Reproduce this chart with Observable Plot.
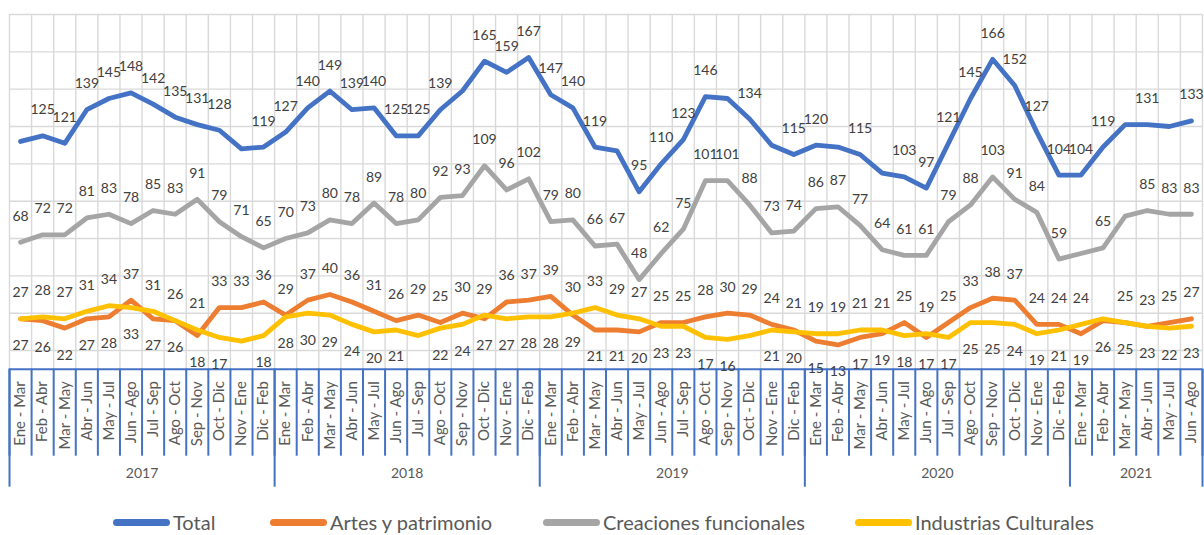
<!DOCTYPE html>
<html><head><meta charset="utf-8">
<script src="https://cdn.jsdelivr.net/npm/d3@7"></script>
<script src="https://cdn.jsdelivr.net/npm/@observablehq/plot@0.6"></script>
<style>
body{margin:0;background:#fff;overflow:hidden;font-family:Lato,"Open Sans",sans-serif;}
#chart{position:relative;width:1204px;height:535px;}
#legend{position:absolute;left:0;top:507px;width:1204px;height:30px;}
.item{position:absolute;top:0;display:flex;align-items:center;height:30px;font-size:20px;line-height:24px;color:#595959;white-space:nowrap;}
.sw{display:inline-block;width:57px;height:7px;border-radius:4px;margin-right:3px;}
</style></head><body><div id="chart"></div>
<script>
const periods = ["Ene - Mar","Feb - Abr","Mar - May","Abr - Jun","May - Jul","Jun - Ago","Jul - Sep","Ago - Oct","Sep - Nov","Oct - Dic","Nov - Ene","Dic - Feb"];
const years = ["2017","2018","2019","2020","2021"];
const yearCounts = [12,12,12,12,6];

const total = [122,125,121,139,145,148,142,135,131,128,118,119,
  127,140,149,139,140,125,125,139,149,165,159,167,
  147,140,119,117,95,110,123,146,145,134,120,115,
  120,119,115,105,103,97,121,145,166,152,127,104,
  104,119,131,131,130,133];
const artes = [27,26,22,27,28,37,27,26,18,33,33,36,
  29,37,40,36,31,26,29,25,30,27,36,37,
  39,29,21,21,20,25,25,28,30,29,24,21,
  15,13,17,19,25,17,25,33,38,37,24,24,
  19,26,25,23,25,27];
const creaciones = [68,72,72,81,83,78,85,83,91,79,71,65,
  70,73,80,78,89,78,80,92,93,109,96,102,
  79,80,66,67,48,62,75,101,101,88,73,74,
  86,87,77,64,61,61,79,88,103,91,84,59,
  62,65,82,85,83,83];
const industrias = [27,28,27,31,34,33,31,26,21,17,15,18,
  28,30,29,24,20,21,18,22,24,29,27,28,
  28,30,33,29,27,23,23,17,16,18,21,20,
  19,19,21,21,18,19,17,25,25,24,19,21,
  24,27,25,23,22,23];
const totalNoLabel = [0,10,20,27,32,34,37,39,50,52];
const creacionesNoLabel = [48,50];
const artesNoLabel = [];
const industriasNoLabel = [10,18,33,49];

const seriesNames = ["Total","Artes y patrimonio","Creaciones funcionales","Industrias Culturales"];
const seriesColors = ["#4472C4","#ED7D31","#A5A5A5","#FFC000"];

const categories = [];
years.forEach((y,k)=>{ for(let j=0;j<yearCounts[k];j++) categories.push(periods[j]); });
const n = categories.length;
const yearStarts = yearCounts.map((c,k)=>d3.sum(yearCounts.slice(0,k)));
const yearCenters = yearCounts.map((c,k)=>yearStarts[k]+c/2);
const yearBounds = [...yearStarts, n];

const seriesDefs = [
  {name: seriesNames[0], values: total, color: seriesColors[0], noLabel: totalNoLabel},
  {name: seriesNames[1], values: artes, color: seriesColors[1], noLabel: artesNoLabel},
  {name: seriesNames[2], values: creaciones, color: seriesColors[2], noLabel: creacionesNoLabel},
  {name: seriesNames[3], values: industrias, color: seriesColors[3], noLabel: industriasNoLabel}
];
const rows = s => s.values.map((v,i)=>({x: i + 0.5, v, i}));

// labels: Total and Creaciones above; of Artes/Industrias, the higher one above, the lower one below
const above = [], below = [];
for (const s of seriesDefs) {
  for (const d of rows(s)) {
    if (s.noLabel.includes(d.i)) continue;
    let up = true;
    if (s.values === artes) up = artes[d.i] >= industrias[d.i];
    if (s.values === industrias) up = industrias[d.i] > artes[d.i];
    (up ? above : below).push(d);
  }
}

const marks = [
  Plot.gridY({ticks: d3.range(10, 191, 20), stroke: "#d9d9d9", strokeOpacity: 1, strokeWidth: 1.4}),
  Plot.gridX({ticks: d3.range(0, n + 1), stroke: "#d9d9d9", strokeOpacity: 1, strokeWidth: 1.4}),
  Plot.ruleY([0], {stroke: "#4472C4", strokeWidth: 2}),
  Plot.axisX({ticks: d3.range(0, n + 1), tickSize: 87, tickFormat: () => "", label: null, stroke: "#4472C4", strokeWidth: 2}),
  Plot.axisX({ticks: yearBounds, tickSize: 118, tickFormat: () => "", label: null, stroke: "#4472C4", strokeWidth: 2}),
  Plot.axisX({ticks: d3.range(0, n).map(i => i + 0.5), tickSize: 0, tickPadding: 12, tickRotate: -90, label: null,
    tickFormat: d => categories[Math.floor(d)], fontSize: 15, fill: "#595959"}),
  Plot.axisX({ticks: yearCenters, tickSize: 0, tickPadding: 99, label: null,
    tickFormat: d => years[yearCenters.indexOf(d)], fontSize: 14, fill: "#595959"})
];
for (const s of seriesDefs) {
  marks.push(Plot.line(rows(s), {x: "x", y: "v", stroke: s.color, strokeWidth: 4.8, strokeLinejoin: "round", strokeLinecap: "round"}));
}
marks.push(Plot.text(above, {x: "x", y: "v", text: d => String(d.v), dy: -26, fill: "#404040", fontSize: 14}));
marks.push(Plot.text(below, {x: "x", y: "v", text: d => String(d.v), dy: 27, fill: "#404040", fontSize: 14}));

const chart = Plot.plot({
  width: 1204, height: 500,
  marginLeft: 9, marginRight: 2, marginTop: 14, marginBottom: 131.3,
  x: {type: "linear", domain: [0, n], axis: null},
  y: {domain: [0, 190], axis: null},
  style: {fontFamily: "Lato, 'Open Sans', sans-serif", fontSize: "14px", color: "#595959", background: "white", overflow: "visible"},
  marks
});
const root = document.getElementById("chart");
root.appendChild(chart);

const legend = document.createElement("div");
legend.id = "legend";
const legendLeft = [113, 270, 543, 855];
seriesNames.forEach((nm, k) => {
  const it = document.createElement("div");
  it.className = "item";
  it.style.left = legendLeft[k] + "px";
  const sw = document.createElement("span");
  sw.className = "sw";
  sw.style.background = seriesColors[k];
  it.appendChild(sw);
  it.appendChild(document.createTextNode(nm));
  legend.appendChild(it);
});
root.appendChild(legend);
</script></body></html>
